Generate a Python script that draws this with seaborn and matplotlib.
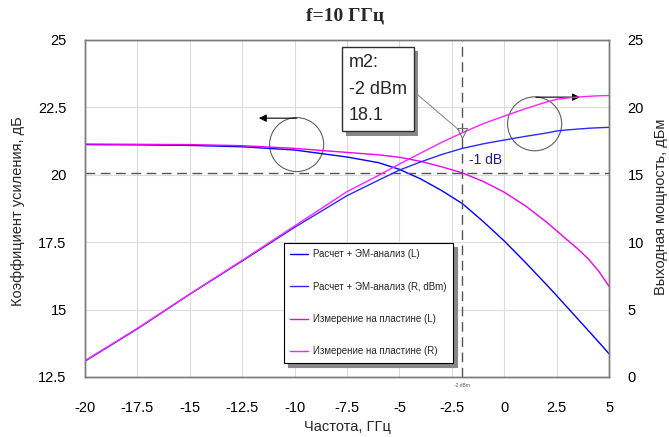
import matplotlib
matplotlib.use("Agg")
import matplotlib.pyplot as plt
import matplotlib.patches as mpatches
import matplotlib.patheffects as pe
import matplotlib.transforms as mtransforms
import seaborn as sns
import pandas as pd

# --- dados ---
P_IN = [-20, -17.5, -15, -12.5, -10, -7.5, -6, -5, -4, -3, -2, -1, 0, 1, 2, 2.5, 3, 3.5, 4, 4.5, 5]
GAIN_CALC = [21.12, 21.11, 21.09, 21.04, 20.92, 20.66, 20.45, 20.2, 19.85, 19.42, 18.93,
             18.26, 17.54, 16.75, 15.93, 15.51, 15.08, 14.65, 14.22, 13.79, 13.35]
GAIN_MEAS = [21.14, 21.13, 21.12, 21.08, 20.98, 20.83, 20.74, 20.65, 20.5, 20.3, 20.07,
             19.75, 19.35, 18.85, 18.25, 17.92, 17.58, 17.25, 16.88, 16.42, 15.85]
POUT_CALC = [1.16, 3.56, 6.13, 8.6, 11.1, 13.45, 14.6, 15.35, 15.95, 16.5, 16.96,
             17.3, 17.58, 17.85, 18.1, 18.25, 18.33, 18.39, 18.45, 18.49, 18.52]
POUT_MEAS = [1.2, 3.6, 6.15, 8.65, 11.2, 13.75, 14.95, 15.8, 16.6, 17.4, 18.12,
             18.8, 19.36, 19.9, 20.4, 20.6, 20.7, 20.77, 20.82, 20.86, 20.88]

LABELS = ["Расчет + ЭМ-анализ (L)", "Расчет + ЭМ-анализ (R, dBm)",
          "Измерение на пластине (L)", "Измерение на пластине (R)"]

X_TICKS = [-20, -17.5, -15, -12.5, -10, -7.5, -5, -2.5, 0, 2.5, 5]
X_TICK_LABELS = ["-20", "-17.5", "-15", "-12.5", "-10", "-7.5", "-5", "-2.5", "0", "2.5", "5"]
YL_TICKS = [12.5, 15, 17.5, 20, 22.5, 25]
YL_TICK_LABELS = ["12.5", "15", "17.5", "20", "22.5", "25"]
YR_TICKS = [0, 5, 10, 15, 20, 25]
YR_TICK_LABELS = ["0", "5", "10", "15", "20", "25"]

REF_GAIN = 20.07      # линия -1 dB
MARKER_X = -2         # m2
MARKER_Y = 18.1
MARKER_TEXT = "m2:\n-2 dBm\n18.1"

df = pd.DataFrame({"pin": P_IN, "g_calc": GAIN_CALC, "g_meas": GAIN_MEAS,
                   "p_calc": POUT_CALC, "p_meas": POUT_MEAS})

sns.set_theme(style="whitegrid")
plt.rcParams["font.family"] = ["Liberation Sans", "DejaVu Sans"]

fig = plt.figure(figsize=(6.69, 4.37), dpi=100)
ax = fig.add_axes([0.1266, 0.1373, 0.7842, 0.7712])
ax2 = ax.twinx()

BLUE = "#0000ff"
BLUE2 = "#2a2aff"
MAG = "#f000f0"
MAG2 = "#ff22ff"

sns.lineplot(data=df, x="pin", y="g_calc", ax=ax, color=BLUE, lw=1.0, label=LABELS[0])
sns.lineplot(data=df, x="pin", y="g_meas", ax=ax, color=MAG, lw=1.0, label=LABELS[2])
sns.lineplot(data=df, x="pin", y="p_calc", ax=ax2, color=BLUE2, lw=1.0, label=LABELS[1])
sns.lineplot(data=df, x="pin", y="p_meas", ax=ax2, color=MAG2, lw=1.0, label=LABELS[3])

h1, _ = ax.get_legend_handles_labels()
h2, _ = ax2.get_legend_handles_labels()
ax.get_legend().remove()
ax2.get_legend().remove()

# оси
ax.set_xlim(-20, 5)
ax.set_ylim(12.5, 25)
ax2.set_ylim(0, 25)
ax.set_xticks(X_TICKS, X_TICK_LABELS)
ax.set_yticks(YL_TICKS, YL_TICK_LABELS)
ax2.set_yticks(YR_TICKS, YR_TICK_LABELS)
ax.tick_params(axis="x", length=0, pad=17, labelsize=10.5, colors="black")
ax.tick_params(axis="y", length=0, pad=13, labelsize=10.5, colors="black")
ax2.tick_params(axis="y", length=0, pad=13, labelsize=10.5, colors="black")
ax.grid(True, color="#dcdcdc", lw=0.8)
ax2.grid(False)
ax.set_axisbelow(True)
for a in (ax, ax2):
    for s in a.spines.values():
        s.set_color("#7a7a7a")
        s.set_linewidth(1.0)

ax.set_xlabel("Частота, ГГц", fontsize=10.5)
ax.xaxis.set_label_coords(0.5, -0.127)
ax.set_ylabel("Коэффициент усиления, дБ", fontsize=10.5)
ax.yaxis.set_label_coords(-0.114, 0.4926)
ax2.set_ylabel("Выходная мощность, дБм", fontsize=10.5)
ax2.yaxis.set_label_coords(1.0855, 0.504)

fig.text(0.516, 0.963, "f=10 ГГц", ha="center", va="center", fontsize=14,
         weight="bold", family=["Liberation Serif", "DejaVu Serif"])

# линии -1 dB и маркер
ax.axhline(REF_GAIN, color="#555555", lw=1.0, dashes=(7, 4))
ax.axvline(MARKER_X, color="#555555", lw=1.0, dashes=(7, 4))
ax.text(-1.67, 20.3, "-1 dB", color="#1c1c8c", fontsize=10, ha="left", va="bottom")
trans = mtransforms.blended_transform_factory(ax.transData, ax.transAxes)
ax.text(MARKER_X, -0.025, "-2 dBm", transform=trans, fontsize=3.5, color="#555555",
        ha="center", va="center")

ax2.plot([MARKER_X], [MARKER_Y], marker="v", ms=7, mfc="none", mec="#707070", mew=0.8)
ann = ax2.annotate(MARKER_TEXT, xy=(MARKER_X, MARKER_Y), xytext=(349, 437 - 54),
                   textcoords="figure pixels", ha="left", va="top", fontsize=13,
                   linespacing=1.74,
                   bbox=dict(boxstyle="square,pad=0.4", fc="white", ec="#303030", lw=1.0),
                   arrowprops=dict(arrowstyle="-", color="#808080", lw=0.7,
                                   relpos=(1.0, 0.55), shrinkA=0, shrinkB=3))
ann.get_bbox_patch().set_path_effects(
    [pe.withSimplePatchShadow(offset=(3, -3), shadow_rgbFace="#888888", alpha=1.0)])

# окружности со стрелками
for cx, cy in [(-9.9, 21.12), (1.44, 21.89)]:
    ax.add_patch(mpatches.Ellipse((cx, cy), 2.58, 2.0, fill=False, ec="#606060", lw=0.8))
ax.annotate("", xy=(-11.7, 22.1), xytext=(-9.9, 22.1),
            arrowprops=dict(arrowstyle="-|>", color="black", lw=0.8, mutation_scale=11,
                            shrinkA=0, shrinkB=0))
ax.annotate("", xy=(3.6, 22.88), xytext=(1.5, 22.88),
            arrowprops=dict(arrowstyle="-|>", color="black", lw=0.8, mutation_scale=11,
                            shrinkA=0, shrinkB=0))

# легенда
leg = ax2.legend([h1[0], h2[0], h1[1], h2[1]], LABELS, loc="upper left",
                 bbox_to_anchor=(0.38, 0.398), borderaxespad=0, fontsize=7,
                 labelspacing=2.3, borderpad=0.65, handlelength=1.85, handletextpad=0.5,
                 fancybox=False, framealpha=1,
                 shadow={"ox": 3, "oy": -3, "color": "#888888", "alpha": 1.0})
leg.get_frame().set_edgecolor("black")
leg.get_frame().set_linewidth(0.8)

plt.savefig("out.png", dpi=100)
plt.close()
